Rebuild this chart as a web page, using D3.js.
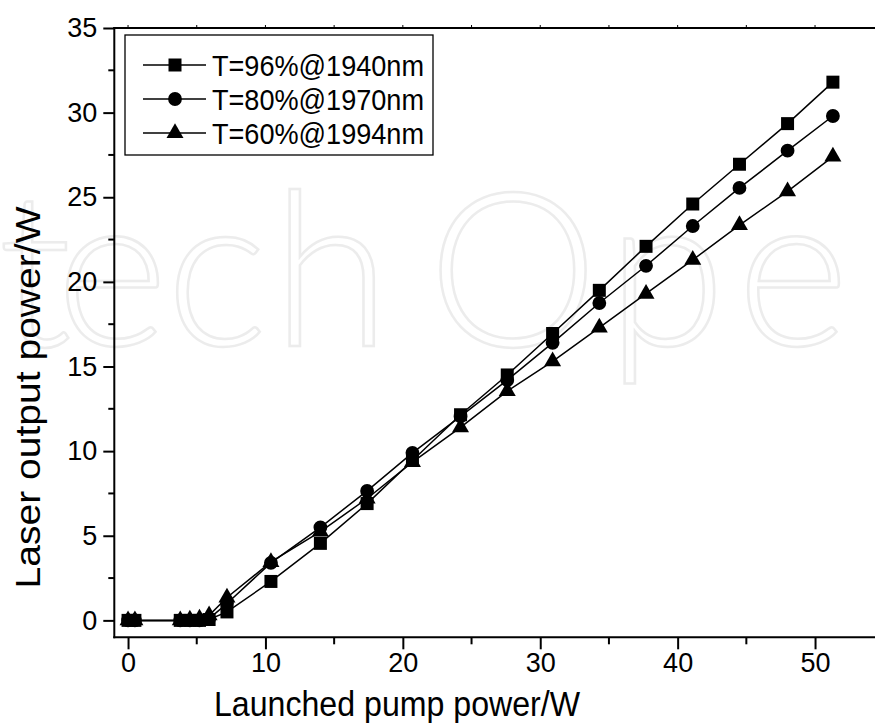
<!DOCTYPE html>
<html>
<head>
<meta charset="utf-8">
<script src="https://cdn.jsdelivr.net/npm/d3@7"></script>
<style>
  html, body { margin: 0; padding: 0; background: #fff; }
  svg { display: block; }
  text { font-family: "Liberation Sans", Arial, sans-serif; fill: #000; }
</style>
</head>
<body>
<svg id="chart" width="875" height="723"></svg>
<script>
// Launched pump power (W)
const pumpPower = [0, 0.5, 3.8, 4.5, 5.2, 5.9, 7.2, 10.4, 14.0, 17.4, 20.7, 24.2, 27.6, 30.9, 34.3, 37.7, 41.1, 44.5, 48.0, 51.3];
// Laser output power (W) for each output-coupler transmission
const outT96 = [0, 0, 0, 0, 0, 0.05, 0.5, 2.3, 4.55, 6.9, 9.45, 12.15, 14.5, 16.95, 19.5, 22.1, 24.6, 26.95, 29.35, 31.8];
const outT80 = [0, 0, 0, 0, 0, 0.1, 1.0, 3.4, 5.5, 7.65, 9.9, 12.05, 14.2, 16.4, 18.75, 20.95, 23.3, 25.55, 27.75, 29.8];
const outT60 = [0, 0, 0, 0.05, 0.1, 0.3, 1.35, 3.45, 5.25, 7.2, 9.35, 11.4, 13.55, 15.3, 17.3, 19.3, 21.3, 23.35, 25.35, 27.4];
const seriesNames = ["T=96%@1940nm", "T=80%@1970nm", "T=60%@1994nm"];
const xTicks = [0, 10, 20, 30, 40, 50];
const yTicks = [0, 5, 10, 15, 20, 25, 30, 35];
const xTitle = "Launched pump power/W";
const yTitle = "Laser output power/W";

const svg = d3.select("#chart");

// faint background wordmark
svg.append("text")
  .attr("x", "-2 56 166 272 428 607 737 872")
  .attr("y", 346)
  .style("font-family", "Lato, 'Open Sans', sans-serif")
  .style("font-weight", 300)
  .style("font-size", "215px")
  .style("fill", "none")
  .style("stroke", "#ececec")
  .style("stroke-width", 2.5)
  .text("techOpen");

const plot = { left: 114.3, top: 28, bottom: 637.3 };
const x = d3.scaleLinear().domain([-1, 55]).range([plot.left, plot.left + 56 * 13.74]);
const y = d3.scaleLinear().domain([-1, 35]).range([plot.bottom, plot.top]);

// frame lines (left, bottom, top)
const frame = svg.append("g").attr("stroke", "#000").attr("stroke-width", 2).attr("fill", "none");
frame.append("line").attr("x1", plot.left).attr("x2", plot.left).attr("y1", plot.top - 1).attr("y2", plot.bottom + 1);
frame.append("line").attr("x1", plot.left - 1).attr("x2", 875).attr("y1", plot.bottom).attr("y2", plot.bottom);
frame.append("line").attr("x1", plot.left - 1).attr("x2", 875).attr("y1", plot.top).attr("y2", plot.top);

// bottom axis
const xAxis = svg.append("g").attr("transform", `translate(0,${plot.bottom})`)
  .call(d3.axisBottom(x).tickValues(xTicks).tickSize(12).tickPadding(4).tickFormat(d3.format("d")));
xAxis.select(".domain").remove();
xAxis.selectAll(".tick line").attr("stroke-width", 2);
xAxis.selectAll(".tick text").style("font-size", "27px")
  .style("font-family", "'Liberation Sans', Arial, sans-serif");
svg.append("g").selectAll("line").data(d3.range(5, 55, 10)).join("line")
  .attr("x1", d => x(d)).attr("x2", d => x(d))
  .attr("y1", plot.bottom).attr("y2", plot.bottom + 7)
  .attr("stroke", "#000").attr("stroke-width", 2);

// top axis small ticks
svg.append("g").selectAll("line").data(d3.range(0, 55, 5)).join("line")
  .attr("x1", d => x(d)).attr("x2", d => x(d))
  .attr("y1", plot.top).attr("y2", plot.top - 3)
  .attr("stroke", "#000").attr("stroke-width", 1);

// left axis
const yAxis = svg.append("g").attr("transform", `translate(${plot.left},0)`)
  .call(d3.axisLeft(y).tickValues(yTicks).tickSize(11).tickPadding(6).tickFormat(d3.format("d")));
yAxis.select(".domain").remove();
yAxis.selectAll(".tick line").attr("stroke-width", 2);
yAxis.selectAll(".tick text").style("font-size", "27px")
  .style("font-family", "'Liberation Sans', Arial, sans-serif");
svg.append("g").selectAll("line").data(d3.range(2.5, 35, 5)).join("line")
  .attr("x1", plot.left).attr("x2", plot.left - 6)
  .attr("y1", d => y(d)).attr("y2", d => y(d))
  .attr("stroke", "#000").attr("stroke-width", 2);

// axis titles
svg.append("text")
  .attr("x", 397).attr("y", 716)
  .attr("text-anchor", "middle")
  .attr("textLength", 366).attr("lengthAdjust", "spacingAndGlyphs")
  .style("font-size", "35px")
  .text(xTitle);
svg.append("text")
  .attr("transform", `translate(40,${(205 + 590) / 2}) rotate(-90)`)
  .attr("text-anchor", "middle")
  .attr("textLength", 382).attr("lengthAdjust", "spacingAndGlyphs")
  .style("font-size", "35px")
  .text(yTitle);

// markers
const symSquare = d3.symbol().type(d3.symbolSquare).size(169);
const symCircle = d3.symbol().type(d3.symbolCircle).size(150);
const symTriangle = d3.symbol().type(d3.symbolTriangle).size(125);
const symbols = [symSquare, symCircle, symTriangle];
const allSeries = [outT96, outT80, outT60];

const line = d3.line().x(d => x(d[0])).y(d => y(d[1]));
const g = svg.append("g");
allSeries.forEach(vals => {
  const pts = pumpPower.map((p, k) => [p, vals[k]]);
  g.append("path").datum(pts).attr("d", line)
    .attr("fill", "none").attr("stroke", "#000").attr("stroke-width", 1.5);
});
allSeries.forEach((vals, i) => {
  const pts = pumpPower.map((p, k) => [p, vals[k]]);
  g.append("g").selectAll("path").data(pts).join("path")
    .attr("d", symbols[i])
    .attr("transform", d => `translate(${x(d[0])},${y(d[1])})`)
    .attr("fill", "#000");
});

// legend
const legend = svg.append("g");
legend.append("rect").attr("x", 125).attr("y", 35).attr("width", 308).attr("height", 120)
  .attr("fill", "#fff").attr("stroke", "#000").attr("stroke-width", 1.3);
const rowY = [65, 99, 133];
seriesNames.forEach((name, i) => {
  legend.append("line").attr("x1", 143).attr("x2", 206).attr("y1", rowY[i]).attr("y2", rowY[i])
    .attr("stroke", "#000").attr("stroke-width", 1.5);
  legend.append("path").attr("d", symbols[i]).attr("transform", `translate(175,${rowY[i]})`).attr("fill", "#000");
  legend.append("text")
    .attr("x", 212).attr("y", rowY[i] + 11)
    .attr("textLength", 212).attr("lengthAdjust", "spacingAndGlyphs")
    .style("font-size", "30px")
    .text(name);
});
</script>
</body>
</html>
